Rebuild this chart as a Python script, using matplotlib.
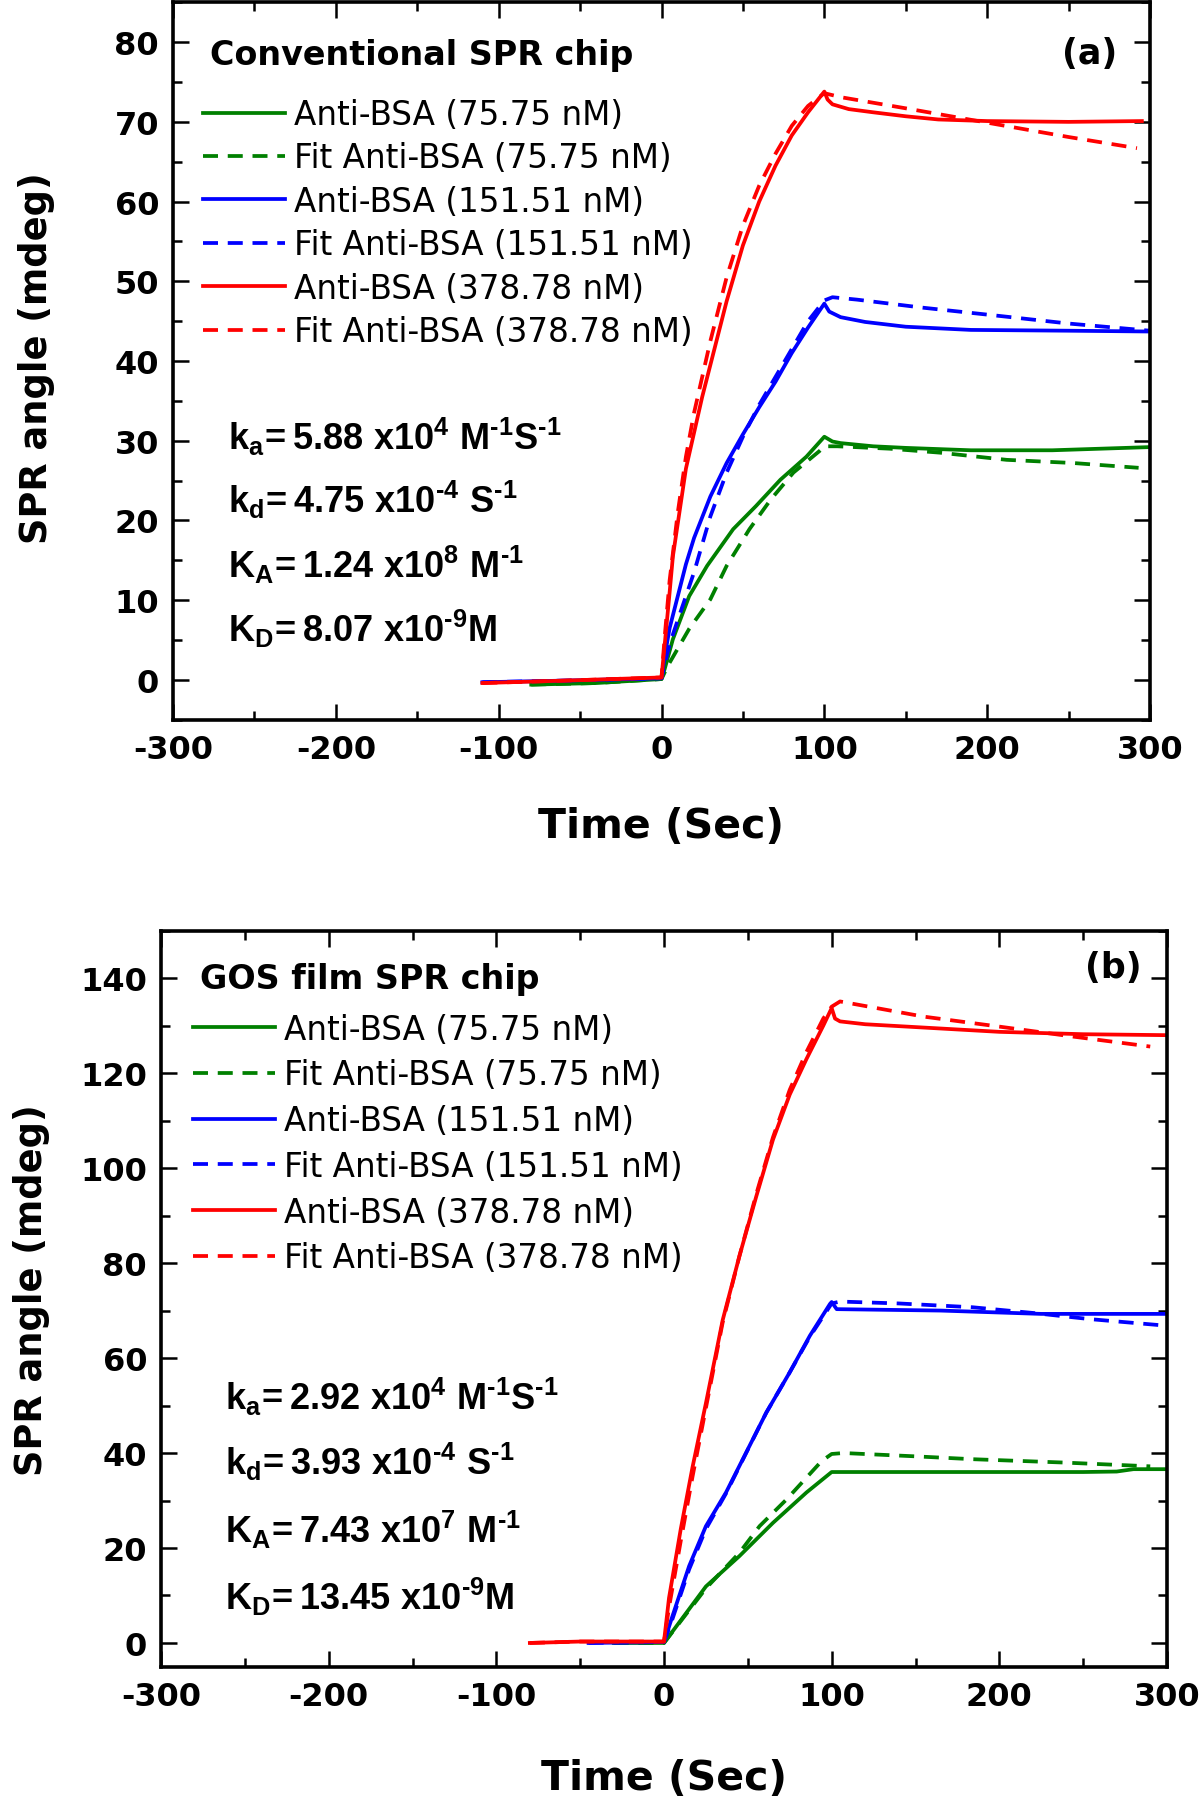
import matplotlib
matplotlib.use("Agg")
import matplotlib.pyplot as plt
from matplotlib.ticker import MultipleLocator

# ---- panel (a): conventional SPR chip ----
ta_green = [-80, -40, 0, 2, 7, 17, 28, 44, 58, 73, 89, 100, 105, 110, 130, 150, 190, 240, 270, 300]
va_green = [-0.6, -0.4, 0.1, 1.4, 5.1, 10.5, 14.3, 18.9, 21.8, 25.1, 28.0, 30.5, 29.9, 29.7, 29.3, 29.1, 28.8, 28.8, 29.0, 29.2]
ta_green_fit = [-80, -40, 0, 4, 17, 30, 40, 54, 67, 81, 97, 100, 108, 140, 171, 212, 253, 293]
va_green_fit = [-0.6, -0.4, 0.1, 1.8, 6.4, 10.1, 14.3, 18.9, 22.6, 26.0, 28.7, 29.3, 29.3, 29.0, 28.5, 27.6, 27.2, 26.6]

ta_blue = [-110, -60, 0, 2, 5, 10, 15, 20, 30, 40, 50, 60, 70, 80, 90, 100, 103, 110, 125, 150, 190, 250, 300]
va_blue = [-0.3, -0.1, 0.2, 3.0, 6.5, 10.5, 14.5, 17.8, 23.0, 27.2, 30.8, 34.2, 37.4, 41.0, 44.2, 47.2, 46.2, 45.5, 44.9, 44.3, 43.9, 43.8, 43.7]
ta_blue_fit = [-110, -60, 0, 5, 10, 15, 20, 30, 40, 50, 60, 70, 80, 90, 100, 105, 120, 160, 210, 250, 300]
va_blue_fit = [-0.3, -0.1, 0.2, 4.5, 7.5, 10.5, 13.5, 20.5, 26.0, 30.5, 34.5, 38.0, 41.5, 45.0, 47.6, 48.0, 47.7, 46.7, 45.6, 44.7, 43.8]

ta_red = [-110, -60, 0, 2, 5, 7, 11, 15, 20, 25, 30, 40, 50, 60, 70, 80, 90, 100, 102, 105, 115, 130, 150, 170, 200, 250, 295]
va_red = [-0.4, -0.1, 0.3, 4.5, 11.0, 15.5, 21.0, 26.5, 31.0, 35.5, 39.5, 47.5, 54.5, 60.0, 64.5, 68.3, 71.2, 73.8, 72.8, 72.2, 71.6, 71.2, 70.7, 70.3, 70.1, 70.0, 70.1]
ta_red_fit = [-110, -60, 0, 2, 5, 10, 15, 20, 30, 40, 50, 60, 70, 80, 90, 100, 110, 150, 200, 250, 292]
va_red_fit = [-0.4, -0.1, 0.3, 5.5, 12.5, 21.0, 28.0, 33.5, 42.5, 50.5, 57.0, 62.0, 66.0, 69.5, 72.0, 73.6, 73.1, 71.7, 69.9, 68.1, 66.7]

# ---- panel (b): GOS film SPR chip ----
tb_green = [-30, 0, 25, 45, 65, 85, 100, 150, 200, 250, 270, 280, 300]
vb_green = [0, 0, 11.9, 18.3, 25.3, 31.7, 36.0, 36.0, 36.0, 36.0, 36.1, 36.6, 36.6]
tb_green_fit = [-30, 0, 25, 45, 57, 73, 94, 100, 107, 150, 184, 238, 290]
vb_green_fit = [0, 0, 11.5, 19.0, 24.6, 30.2, 38.3, 39.8, 40.0, 39.3, 38.7, 38.0, 37.2]

tb_blue = [-45, 0, 5, 15, 25, 37, 49, 61, 75, 87, 99, 100, 103, 165, 225, 300]
vb_blue = [0, 0.2, 5.6, 16.2, 24.6, 31.7, 40.1, 48.5, 57.0, 64.7, 71.4, 71.8, 70.3, 70.0, 69.3, 69.3]
tb_blue_fit = [-45, 0, 5, 15, 25, 37, 49, 61, 75, 87, 100, 105, 140, 184, 220, 254, 300]
vb_blue_fit = [0, 0.2, 5.0, 15.5, 24.0, 31.5, 40.0, 48.5, 57.0, 64.5, 71.5, 71.9, 71.5, 70.7, 69.5, 68.2, 66.8]

tb_red = [-80, -50, 0, 3, 10, 17, 25, 35, 45, 55, 65, 75, 85, 95, 100, 102, 105, 120, 145, 200, 250, 300]
vb_red = [0, 0.3, 0.3, 9.5, 24.0, 37.0, 50.5, 68.0, 81.5, 94.0, 106.0, 115.5, 123.0, 130.0, 133.7, 131.5, 130.9, 130.3, 129.8, 128.7, 128.2, 128.0]
tb_red_fit = [-80, -50, 0, 3, 10, 17, 25, 35, 45, 55, 65, 75, 85, 95, 100, 105, 155, 200, 244, 290]
vb_red_fit = [0, 0.3, 0.3, 7.5, 21.5, 35.0, 49.5, 67.5, 81.5, 94.5, 106.5, 116.5, 124.5, 131.5, 134.0, 135.1, 131.9, 129.8, 127.7, 125.6]

labels = ["Anti-BSA (75.75 nM)", "Fit Anti-BSA (75.75 nM)",
          "Anti-BSA (151.51 nM)", "Fit Anti-BSA (151.51 nM)",
          "Anti-BSA (378.78 nM)", "Fit Anti-BSA (378.78 nM)"]
colors = ["#008000", "#008000", "#0000FF", "#0000FF", "#FF0000", "#FF0000"]

# hyphen (U+2010) used for the exponents so they stay short like the original
consts_a = [r"$\mathbf{k}_{\mathrm{a}}\!\mathbf{=5.88\ x10}^{\mathrm{4}}\mathbf{\ M}^{\mathrm{‐1}}\mathbf{S}^{\mathrm{‐1}}$",
            r"$\mathbf{k}_{\mathrm{d}}\!\mathbf{=4.75\ x10}^{\mathrm{‐4}}\mathbf{\ S}^{\mathrm{‐1}}$",
            r"$\mathbf{K}_{\mathrm{A}}\!\mathbf{=1.24\ x10}^{\mathrm{8}}\mathbf{\ M}^{\mathrm{‐1}}$",
            r"$\mathbf{K}_{\mathrm{D}}\!\mathbf{=8.07\ x10}^{\mathrm{‐9}}\mathbf{M}$"]
consts_b = [r"$\mathbf{k}_{\mathrm{a}}\!\mathbf{=2.92\ x10}^{\mathrm{4}}\mathbf{\ M}^{\mathrm{‐1}}\mathbf{S}^{\mathrm{‐1}}$",
            r"$\mathbf{k}_{\mathrm{d}}\!\mathbf{=3.93\ x10}^{\mathrm{‐4}}\mathbf{\ S}^{\mathrm{‐1}}$",
            r"$\mathbf{K}_{\mathrm{A}}\!\mathbf{=7.43\ x10}^{\mathrm{7}}\mathbf{\ M}^{\mathrm{‐1}}$",
            r"$\mathbf{K}_{\mathrm{D}}\!\mathbf{=13.45\ x10}^{\mathrm{‐9}}\mathbf{M}$"]

plt.rcParams['font.family'] = 'DejaVu Sans'
plt.rcParams['font.weight'] = 'bold'
plt.rcParams['axes.unicode_minus'] = False
plt.rcParams['mathtext.fontset'] = 'custom'
plt.rcParams['mathtext.rm'] = 'Liberation Sans'
plt.rcParams['mathtext.bf'] = 'Liberation Sans:bold'
plt.rcParams['mathtext.it'] = 'Liberation Sans:italic'

W, H = 1200, 1806
fig = plt.figure(figsize=(12, 18.06), dpi=100)


def fx(x):
    return x / W


def fy(y):
    return 1 - y / H


ax1 = fig.add_axes([fx(173), fy(720.7), (1150 - 173) / W, (720.7 - 3.3) / H])
ax2 = fig.add_axes([fx(161), fy(1667.7), (1167 - 161) / W, (1667.7 - 931.7) / H])


def draw(ax, series):
    for i, (t, v) in enumerate(series):
        if i % 2 == 0:
            ax.plot(t, v, color=colors[i], lw=2.7, label=labels[i])
        else:
            ax.plot(t, v, color=colors[i], lw=2.7, ls=(0, (4.0, 2.6)), label=labels[i])


def style(ax, ymax, ymaj, ymin):
    ax.set_xlim(-300, 300)
    ax.set_ylim(-5, ymax)
    ax.xaxis.set_major_locator(MultipleLocator(100))
    ax.xaxis.set_minor_locator(MultipleLocator(50))
    ax.yaxis.set_major_locator(MultipleLocator(ymaj))
    ax.yaxis.set_minor_locator(MultipleLocator(ymin))
    ax.tick_params(which='both', direction='in', top=True, right=True, width=1.8)
    ax.tick_params(which='major', length=11.5, labelsize=23, pad=10)
    ax.tick_params(which='minor', length=6.5)
    for s in ax.spines.values():
        s.set_linewidth(2.6)


draw(ax1, [(ta_green, va_green), (ta_green_fit, va_green_fit),
           (ta_blue, va_blue), (ta_blue_fit, va_blue_fit),
           (ta_red, va_red), (ta_red_fit, va_red_fit)])
draw(ax2, [(tb_green, vb_green), (tb_green_fit, vb_green_fit),
           (tb_blue, vb_blue), (tb_blue_fit, vb_blue_fit),
           (tb_red, vb_red), (tb_red_fit, vb_red_fit)])
style(ax1, 85, 10, 5)
style(ax2, 150, 20, 10)

leg_kw = dict(loc='upper left', frameon=False, prop=dict(size=23.5, weight='normal'),
              handlelength=2.5, handletextpad=0.3,
              borderpad=0, borderaxespad=0)
ax1.legend(bbox_to_anchor=((203 - 173) / 977, (720.7 - 99) / 717.4), labelspacing=0.32, **leg_kw)
ax2.legend(bbox_to_anchor=((193 - 161) / 1006, (1667.7 - 1013.7) / 736), labelspacing=0.39, **leg_kw)

# panel titles and tags
fig.text(fx(210), fy(55), "Conventional SPR chip", fontsize=24, va='center')
fig.text(fx(200), fy(980), "GOS film SPR chip", fontsize=24, va='center')
fig.text(fx(1090), fy(54), "(a)", fontsize=25, ha='center', va='center')
fig.text(fx(1113), fy(968), "(b)", fontsize=25, ha='center', va='center')

# kinetic constants
for s, y in zip(consts_a, [450, 513, 578, 642]):
    fig.text(fx(228), fy(y), s, fontsize=26, va='baseline')
for s, y in zip(consts_b, [1410, 1475, 1543, 1610]):
    fig.text(fx(225), fy(y), s, fontsize=26, va='baseline')

# axis labels
fig.text(fx(661.5), fy(827), "Time (Sec)", fontsize=29.5, ha='center', va='center')
fig.text(fx(664), fy(1779), "Time (Sec)", fontsize=29.5, ha='center', va='center')
fig.text(fx(37), fy(358), "SPR angle (mdeg)", fontsize=26.5, rotation=90, ha='center', va='center')
fig.text(fx(32), fy(1290), "SPR angle (mdeg)", fontsize=26.5, rotation=90, ha='center', va='center')

fig.savefig("out.png", dpi=100)
